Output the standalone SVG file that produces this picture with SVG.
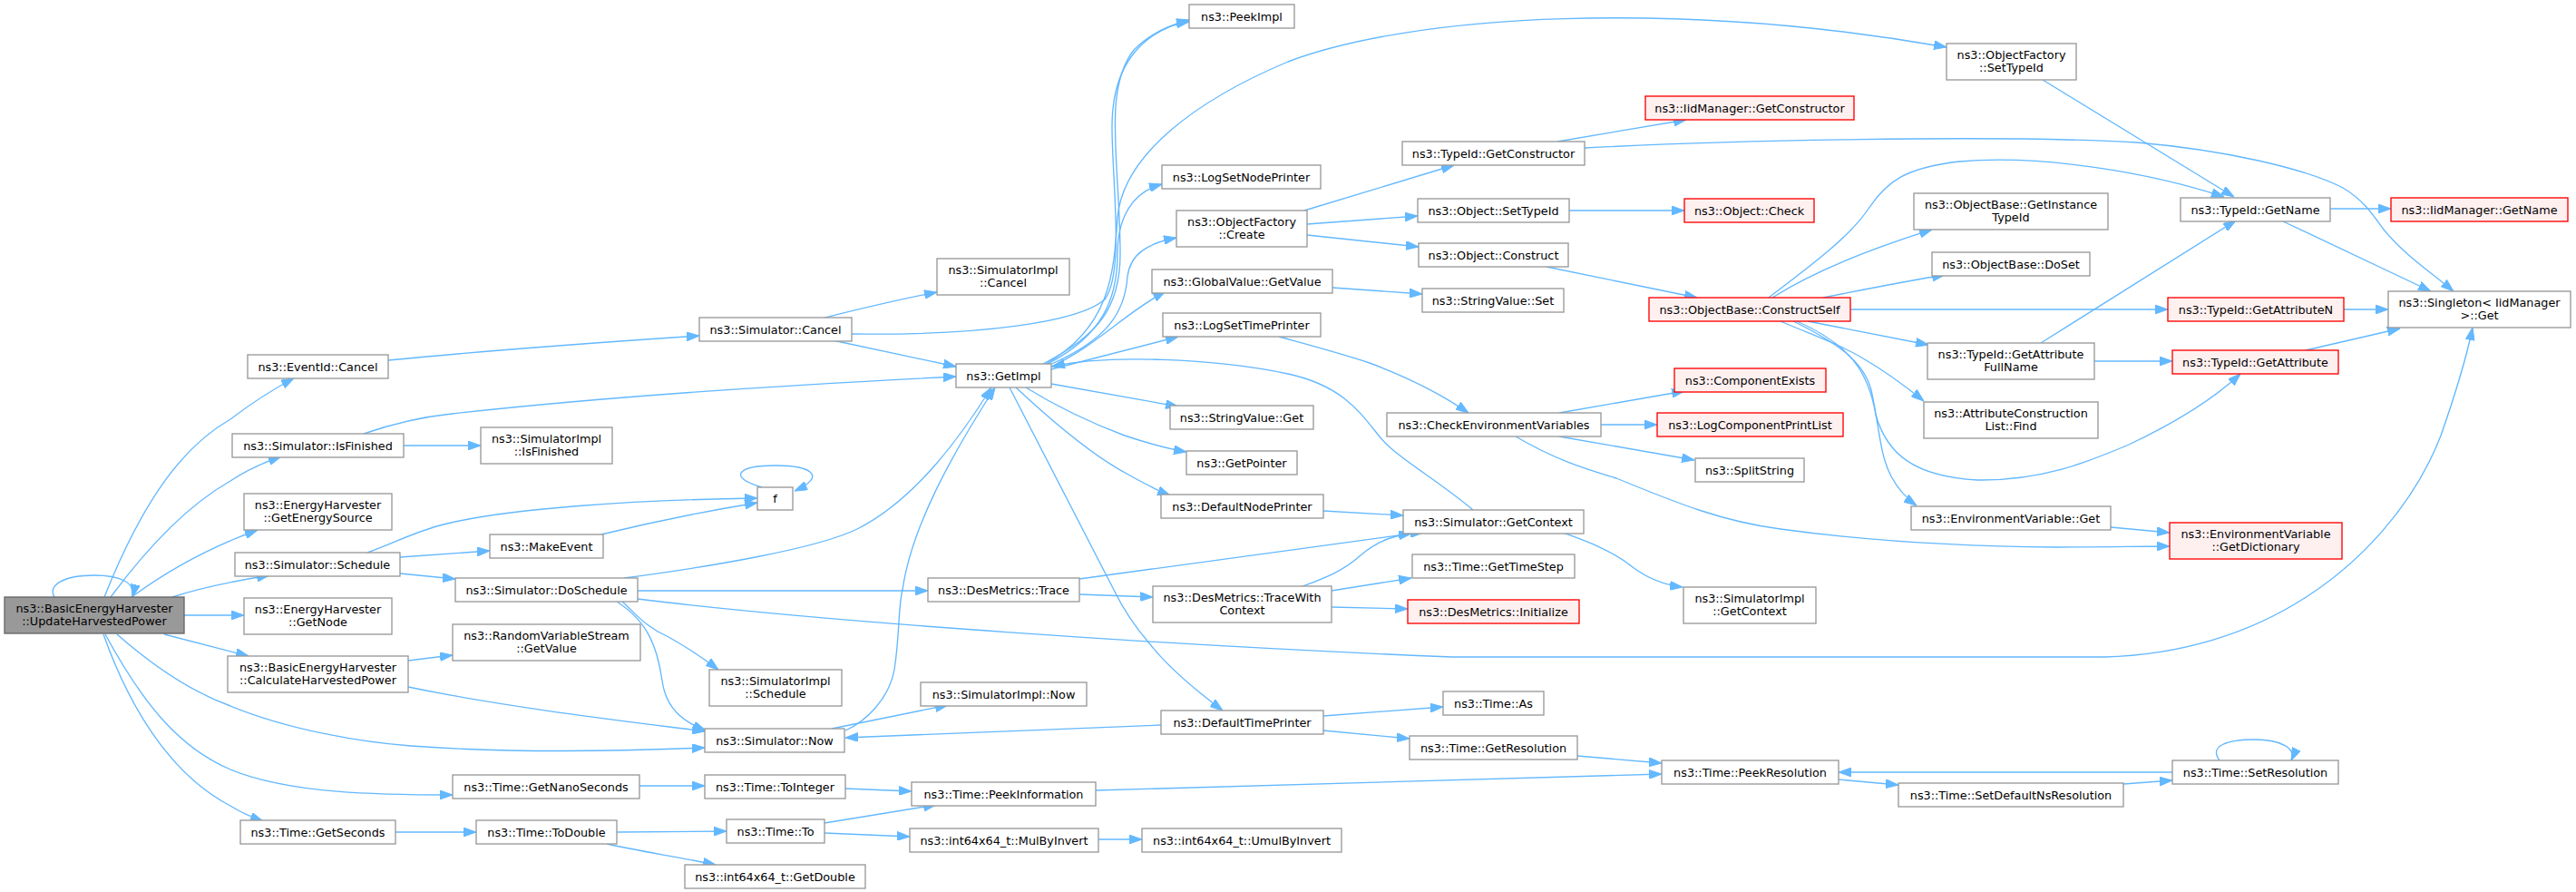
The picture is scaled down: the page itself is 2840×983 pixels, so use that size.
<svg xmlns="http://www.w3.org/2000/svg" width="2840" height="983" viewBox="0 0 2840 983">
<defs>
<marker id="a" markerUnits="userSpaceOnUse" markerWidth="14" markerHeight="10" refX="13.5" refY="4.75" orient="auto" viewBox="0 0 13.5 9.5"><path d="M0,0 L13.5,4.75 L0,9.5 z" fill="#63b8ff" stroke="#63b8ff" stroke-width="1"/></marker>
<style>
rect{fill:#fff;stroke:#999;stroke-width:1.35}
.r rect{fill:#fff0f0;stroke:#ff0000}
.m rect{fill:#999;stroke:#666}
text{font-family:"DejaVu Sans",sans-serif;font-size:12.8px;text-anchor:middle;fill:#000}
#edges path{fill:none;stroke:#63b8ff;stroke-width:1.35;marker-end:url(#a)}
</style>
</defs>
<rect x="0" y="0" width="2840" height="983" style="fill:#fff;stroke:none"/>
<g id="edges">
<path d="M115,658 C160,545 205,490 254,462 C275,446 295,432 324,417"/>
<path d="M122,658 C165,600 210,555 254,530 C272,518 290,510 310,503"/>
<path d="M145,658 C190,625 240,600 284,584"/>
<path d="M60,658 C52,645 70,634 104,634 C132,634 150,642 146,658"/>
<path d="M190,658 C220,648 260,640 297,634"/>
<path d="M203,678 L269,678"/>
<path d="M181,699 L274,723"/>
<path d="M129,699 C170,735 210,762 254,778 C320,805 400,818 453,822 C560,830 680,828 777,824"/>
<path d="M450,757 C560,780 700,796 777,806"/>
<path d="M116,699 C160,780 200,825 254,848 C320,875 420,876 499,876"/>
<path d="M114,699 C150,800 200,860 254,888 C265,895 276,900 290,905"/>
<path d="M428,397 C550,385 680,376 771,370"/>
<path d="M445,491 L530,491"/>
<path d="M401,478 C430,468 460,460 498,456 C640,440 850,425 1054,415"/>
<path d="M441,614 L540,607"/>
<path d="M441,632 L502,638"/>
<path d="M405,609 C440,596 460,585 489,578 C560,560 700,551 835,549"/>
<path d="M663,589 C720,575 780,563 835,554"/>
<path d="M840,537 C800,525 815,513 855,513 C895,513 912,525 876,541"/>
<path d="M688,637 C780,625 900,605 945,583 C1010,550 1060,480 1093,427"/>
<path d="M703,651 L1023,651"/>
<path d="M686,663 C700,675 710,690 737,702 C755,712 775,725 792,738"/>
<path d="M680,663 C715,685 725,715 730,750 C734,780 752,795 778,805"/>
<path d="M703,660 C900,685 1300,712 1601,724 L2320,724 C2400,722 2480,700 2547,655 C2600,620 2660,560 2691,480 C2705,440 2718,400 2726,361"/>
<path d="M909,350 C950,340 990,330 1033,322"/>
<path d="M918,375 L1054,404"/>
<path d="M939,368 C1080,370 1190,355 1218,330 C1240,300 1226,200 1226,140 C1226,70 1260,35 1311,22"/>
<path d="M1150,401 C1210,370 1235,340 1235,280 C1235,180 1215,100 1250,55 C1270,35 1290,27 1311,24"/>
<path d="M1155,401 C1215,370 1232,330 1232,280 C1232,240 1248,212 1281,203"/>
<path d="M1157,402 C1220,375 1240,345 1243,305 C1246,280 1265,268 1297,262"/>
<path d="M1159,404 C1210,380 1240,345 1285,321"/>
<path d="M1153,401 C1225,360 1228,300 1232,240 C1238,170 1320,110 1420,68 C1560,15 1850,0 2146,52"/>
<path d="M1159,407 L1299,371"/>
<path d="M1159,423 L1299,448"/>
<path d="M1131,427 C1160,445 1200,465 1240,480 C1270,490 1290,495 1308,498"/>
<path d="M1120,427 C1150,455 1200,500 1244,523 C1260,532 1275,540 1290,546"/>
<path d="M1113,427 L1228,650 C1240,675 1255,695 1268,710 C1290,738 1320,762 1348,783"/>
<path d="M1624,562 C1580,525 1540,505 1520,480 C1500,455 1480,425 1420,412 C1340,395 1220,390 1160,404"/>
<path d="M932,805 C955,795 980,770 986,738 C992,700 990,670 995,650 C1005,580 1050,500 1097,427"/>
<path d="M917,803 L1045,777"/>
<path d="M1280,799 L932,813"/>
<path d="M1459,789 L1591,779"/>
<path d="M1459,805 L1554,814"/>
<path d="M1739,833 L1832,841"/>
<path d="M1208,871 C1500,862 1700,857 1832,853"/>
<path d="M2027,859 L2093,865"/>
<path d="M2341,864 L2395,860"/>
<path d="M2395,851 L2027,851"/>
<path d="M2447,838 C2435,822 2455,815 2486,815 C2515,815 2532,825 2526,838"/>
<path d="M705,866 L777,866"/>
<path d="M932,869 L1005,872"/>
<path d="M436,917 L525,917"/>
<path d="M680,917 L801,916"/>
<path d="M669,930 C700,937 750,945 789,953"/>
<path d="M909,907 L1032,887"/>
<path d="M909,918 L1003,922"/>
<path d="M1211,925 L1259,925"/>
<path d="M450,728 L499,722"/>
<path d="M1190,638 C1300,622 1420,606 1556,588"/>
<path d="M1190,655 L1271,658"/>
<path d="M1434,647 C1460,637 1480,630 1500,612 C1520,595 1540,588 1569,587"/>
<path d="M1468,651 L1556,637"/>
<path d="M1468,669 L1552,671"/>
<path d="M1723,587 C1745,595 1775,605 1800,625 C1820,640 1838,645 1855,647"/>
<path d="M1410,371 C1450,382 1480,390 1510,400 C1550,415 1590,435 1619,455"/>
<path d="M1459,563 L1547,568"/>
<path d="M1438,232 L1603,182"/>
<path d="M1441,247 L1563,238"/>
<path d="M1441,259 L1564,272"/>
<path d="M1717,156 L1859,132"/>
<path d="M1747,163 C1900,155 2200,148 2356,157 C2450,165 2540,185 2583,207 C2605,220 2615,235 2628,253 C2650,280 2680,300 2705,321"/>
<path d="M1730,232 L1857,232"/>
<path d="M1705,294 L1871,328"/>
<path d="M1469,317 L1568,324"/>
<path d="M1950,328 C2000,290 2040,260 2060,230 C2080,200 2100,185 2160,178 C2250,170 2370,190 2452,217"/>
<path d="M1954,328 C1990,305 2050,278 2130,253"/>
<path d="M2010,328 C2060,318 2100,310 2144,303"/>
<path d="M2040,341 L2390,341"/>
<path d="M1993,354 L2126,380"/>
<path d="M1963,354 C2000,370 2030,380 2054,395 C2080,410 2100,425 2121,442"/>
<path d="M1977,354 C2030,380 2055,400 2063,430 C2072,470 2072,500 2085,525 C2092,538 2100,548 2113,557"/>
<path d="M1981,354 C2040,380 2060,410 2068,457 C2080,500 2110,525 2180,529 C2250,530 2300,510 2347,490 C2400,465 2440,440 2470,412"/>
<path d="M2250,378 L2465,243"/>
<path d="M2309,398 L2395,398"/>
<path d="M2569,230 L2636,230"/>
<path d="M2515,243 L2680,321"/>
<path d="M2583,341 L2633,341"/>
<path d="M2542,386 L2646,362"/>
<path d="M2252,88 L2463,217"/>
<path d="M1719,455 L1857,431"/>
<path d="M1765,468 L1827,468"/>
<path d="M1719,481 L1868,507"/>
<path d="M1671,481 C1720,510 1760,520 1782,527 C1850,555 1900,575 1963,583 C2050,595 2150,602 2266,603 C2320,603 2360,602 2392,602"/>
<path d="M2327,581 L2392,587"/>
</g>
<g id="n_main" class="m"><rect x="5" y="658" width="198" height="40"/><text x="104" y="675">ns3::BasicEnergyHarvester</text><text x="104" y="689">::UpdateHarvestedPower</text></g>
<g id="n_eventid"><rect x="273" y="391" width="155" height="26"/><text x="350.5" y="408.5">ns3::EventId::Cancel</text></g>
<g id="n_isfinished"><rect x="256" y="478" width="189" height="26"/><text x="350.5" y="495.5">ns3::Simulator::IsFinished</text></g>
<g id="n_simimpl_isfinished"><rect x="530" y="471" width="145" height="40"/><text x="602.5" y="488">ns3::SimulatorImpl</text><text x="602.5" y="502">::IsFinished</text></g>
<g id="n_getenergysource"><rect x="269" y="544" width="163" height="40"/><text x="350.5" y="561">ns3::EnergyHarvester</text><text x="350.5" y="575">::GetEnergySource</text></g>
<g id="n_makeevent"><rect x="540" y="589" width="125" height="26"/><text x="602.5" y="606.5">ns3::MakeEvent</text></g>
<g id="n_schedule"><rect x="259" y="609" width="182" height="26"/><text x="350" y="626.5">ns3::Simulator::Schedule</text></g>
<g id="n_doschedule"><rect x="502" y="637" width="201" height="26"/><text x="602.5" y="654.5">ns3::Simulator::DoSchedule</text></g>
<g id="n_getnode"><rect x="269" y="659" width="163" height="40"/><text x="350.5" y="676">ns3::EnergyHarvester</text><text x="350.5" y="690">::GetNode</text></g>
<g id="n_rvs"><rect x="499" y="688" width="207" height="40"/><text x="602.5" y="705">ns3::RandomVariableStream</text><text x="602.5" y="719">::GetValue</text></g>
<g id="n_calc"><rect x="251" y="723" width="199" height="40"/><text x="350.5" y="740">ns3::BasicEnergyHarvester</text><text x="350.5" y="754">::CalculateHarvestedPower</text></g>
<g id="n_getnano"><rect x="499" y="854" width="206" height="26"/><text x="602" y="871.5">ns3::Time::GetNanoSeconds</text></g>
<g id="n_getseconds"><rect x="265" y="904" width="171" height="26"/><text x="350.5" y="921.5">ns3::Time::GetSeconds</text></g>
<g id="n_todouble"><rect x="525" y="904" width="155" height="26"/><text x="602.5" y="921.5">ns3::Time::ToDouble</text></g>
<g id="n_peekimpl"><rect x="1311" y="5" width="116" height="26"/><text x="1369" y="22.5">ns3::PeekImpl</text></g>
<g id="n_simimpl_cancel"><rect x="1033" y="285" width="146" height="40"/><text x="1106" y="302">ns3::SimulatorImpl</text><text x="1106" y="316">::Cancel</text></g>
<g id="n_logsetnode"><rect x="1281" y="182" width="175" height="26"/><text x="1368.5" y="199.5">ns3::LogSetNodePrinter</text></g>
<g id="n_create"><rect x="1297" y="232" width="144" height="40"/><text x="1369" y="249">ns3::ObjectFactory</text><text x="1369" y="263">::Create</text></g>
<g id="n_globalvalue"><rect x="1270" y="297" width="199" height="26"/><text x="1369.5" y="314.5">ns3::GlobalValue::GetValue</text></g>
<g id="n_simcancel"><rect x="771" y="350" width="168" height="26"/><text x="855" y="367.5">ns3::Simulator::Cancel</text></g>
<g id="n_getimpl"><rect x="1054" y="401" width="105" height="26"/><text x="1106.5" y="418.5">ns3::GetImpl</text></g>
<g id="n_logsettime"><rect x="1282" y="345" width="174" height="26"/><text x="1369" y="362.5">ns3::LogSetTimePrinter</text></g>
<g id="n_stringget"><rect x="1290" y="447" width="158" height="26"/><text x="1369" y="464.5">ns3::StringValue::Get</text></g>
<g id="n_getpointer"><rect x="1308" y="497" width="122" height="26"/><text x="1369" y="514.5">ns3::GetPointer</text></g>
<g id="n_defnode"><rect x="1280" y="545" width="179" height="26"/><text x="1369.5" y="562.5">ns3::DefaultNodePrinter</text></g>
<g id="n_f"><rect x="835" y="537" width="39" height="25"/><text x="854.5" y="554">f</text></g>
<g id="n_trace"><rect x="1023" y="637" width="167" height="26"/><text x="1106.5" y="654.5">ns3::DesMetrics::Trace</text></g>
<g id="n_tracectx"><rect x="1271" y="646" width="197" height="40"/><text x="1369.5" y="663">ns3::DesMetrics::TraceWith</text><text x="1369.5" y="677">Context</text></g>
<g id="n_simimpl_schedule"><rect x="782" y="738" width="146" height="40"/><text x="855" y="755">ns3::SimulatorImpl</text><text x="855" y="769">::Schedule</text></g>
<g id="n_simimpl_now"><rect x="1015" y="752" width="183" height="26"/><text x="1106.5" y="769.5">ns3::SimulatorImpl::Now</text></g>
<g id="n_simnow"><rect x="777" y="803" width="154" height="26"/><text x="854" y="820.5">ns3::Simulator::Now</text></g>
<g id="n_deftime"><rect x="1280" y="783" width="179" height="26"/><text x="1369.5" y="800.5">ns3::DefaultTimePrinter</text></g>
<g id="n_tointeger"><rect x="777" y="854" width="155" height="26"/><text x="854.5" y="871.5">ns3::Time::ToInteger</text></g>
<g id="n_peekinfo"><rect x="1005" y="862" width="203" height="26"/><text x="1106.5" y="879.5">ns3::Time::PeekInformation</text></g>
<g id="n_to"><rect x="801" y="903" width="108" height="26"/><text x="855" y="920.5">ns3::Time::To</text></g>
<g id="n_mulbyinv"><rect x="1003" y="913" width="208" height="26"/><text x="1107" y="930.5">ns3::int64x64_t::MulByInvert</text></g>
<g id="n_umulbyinv"><rect x="1259" y="913" width="220" height="26"/><text x="1369" y="930.5">ns3::int64x64_t::UmulByInvert</text></g>
<g id="n_getdouble"><rect x="755" y="953" width="199" height="26"/><text x="854.5" y="970.5">ns3::int64x64_t::GetDouble</text></g>
<g id="n_iid_getctor" class="r"><rect x="1814" y="106" width="230" height="26"/><text x="1929" y="123.5">ns3::IidManager::GetConstructor</text></g>
<g id="n_typeid_getctor"><rect x="1546" y="156" width="201" height="26"/><text x="1646.5" y="173.5">ns3::TypeId::GetConstructor</text></g>
<g id="n_obj_settypeid"><rect x="1563" y="219" width="167" height="26"/><text x="1646.5" y="236.5">ns3::Object::SetTypeId</text></g>
<g id="n_obj_check" class="r"><rect x="1857" y="219" width="143" height="26"/><text x="1928.5" y="236.5">ns3::Object::Check</text></g>
<g id="n_obj_construct"><rect x="1564" y="268" width="165" height="26"/><text x="1646.5" y="285.5">ns3::Object::Construct</text></g>
<g id="n_stringset"><rect x="1568" y="318" width="156" height="26"/><text x="1646" y="335.5">ns3::StringValue::Set</text></g>
<g id="n_constructself" class="r"><rect x="1818" y="328" width="222" height="26"/><text x="1929" y="345.5">ns3::ObjectBase::ConstructSelf</text></g>
<g id="n_getinstancetypeid"><rect x="2110" y="213" width="214" height="40"/><text x="2217" y="230">ns3::ObjectBase::GetInstance</text><text x="2217" y="244">TypeId</text></g>
<g id="n_doset"><rect x="2130" y="278" width="174" height="26"/><text x="2217" y="295.5">ns3::ObjectBase::DoSet</text></g>
<g id="n_checkenv"><rect x="1529" y="455" width="236" height="26"/><text x="1647" y="472.5">ns3::CheckEnvironmentVariables</text></g>
<g id="n_compexists" class="r"><rect x="1846" y="406" width="167" height="26"/><text x="1929.5" y="423.5">ns3::ComponentExists</text></g>
<g id="n_logcompprint" class="r"><rect x="1827" y="455" width="205" height="26"/><text x="1929.5" y="472.5">ns3::LogComponentPrintList</text></g>
<g id="n_splitstring"><rect x="1869" y="505" width="120" height="26"/><text x="1929" y="522.5">ns3::SplitString</text></g>
<g id="n_simgetctx"><rect x="1547" y="562" width="199" height="26"/><text x="1646.5" y="579.5">ns3::Simulator::GetContext</text></g>
<g id="n_gettimestep"><rect x="1557" y="611" width="179" height="26"/><text x="1646.5" y="628.5">ns3::Time::GetTimeStep</text></g>
<g id="n_simimpl_getctx"><rect x="1856" y="647" width="146" height="40"/><text x="1929" y="664">ns3::SimulatorImpl</text><text x="1929" y="678">::GetContext</text></g>
<g id="n_desinit" class="r"><rect x="1552" y="661" width="189" height="26"/><text x="1646.5" y="678.5">ns3::DesMetrics::Initialize</text></g>
<g id="n_as"><rect x="1591" y="762" width="111" height="26"/><text x="1646.5" y="779.5">ns3::Time::As</text></g>
<g id="n_getres"><rect x="1554" y="811" width="185" height="26"/><text x="1646.5" y="828.5">ns3::Time::GetResolution</text></g>
<g id="n_peekres"><rect x="1832" y="838" width="195" height="26"/><text x="1929.5" y="855.5">ns3::Time::PeekResolution</text></g>
<g id="n_setdefns"><rect x="2093" y="863" width="248" height="26"/><text x="2217" y="880.5">ns3::Time::SetDefaultNsResolution</text></g>
<g id="n_of_settypeid"><rect x="2146" y="48" width="143" height="40"/><text x="2217.5" y="65">ns3::ObjectFactory</text><text x="2217.5" y="79">::SetTypeId</text></g>
<g id="n_getname"><rect x="2404" y="218" width="165" height="26"/><text x="2486.5" y="235.5">ns3::TypeId::GetName</text></g>
<g id="n_iid_getname" class="r"><rect x="2636" y="218" width="195" height="26"/><text x="2733.5" y="235.5">ns3::IidManager::GetName</text></g>
<g id="n_singleton"><rect x="2633" y="321" width="201" height="40"/><text x="2733.5" y="338">ns3::Singleton&lt; IidManager</text><text x="2733.5" y="352">&gt;::Get</text></g>
<g id="n_getattrn" class="r"><rect x="2390" y="328" width="194" height="26"/><text x="2487" y="345.5">ns3::TypeId::GetAttributeN</text></g>
<g id="n_getattrfull"><rect x="2125" y="378" width="184" height="40"/><text x="2217" y="395">ns3::TypeId::GetAttribute</text><text x="2217" y="409">FullName</text></g>
<g id="n_getattr" class="r"><rect x="2395" y="386" width="183" height="26"/><text x="2486.5" y="403.5">ns3::TypeId::GetAttribute</text></g>
<g id="n_acl_find"><rect x="2121" y="443" width="192" height="40"/><text x="2217" y="460">ns3::AttributeConstruction</text><text x="2217" y="474">List::Find</text></g>
<g id="n_envget"><rect x="2107" y="558" width="220" height="26"/><text x="2217" y="575.5">ns3::EnvironmentVariable::Get</text></g>
<g id="n_envdict" class="r"><rect x="2392" y="576" width="190" height="40"/><text x="2487" y="593">ns3::EnvironmentVariable</text><text x="2487" y="607">::GetDictionary</text></g>
<g id="n_setres"><rect x="2395" y="838" width="183" height="26"/><text x="2486.5" y="855.5">ns3::Time::SetResolution</text></g>
</svg>
